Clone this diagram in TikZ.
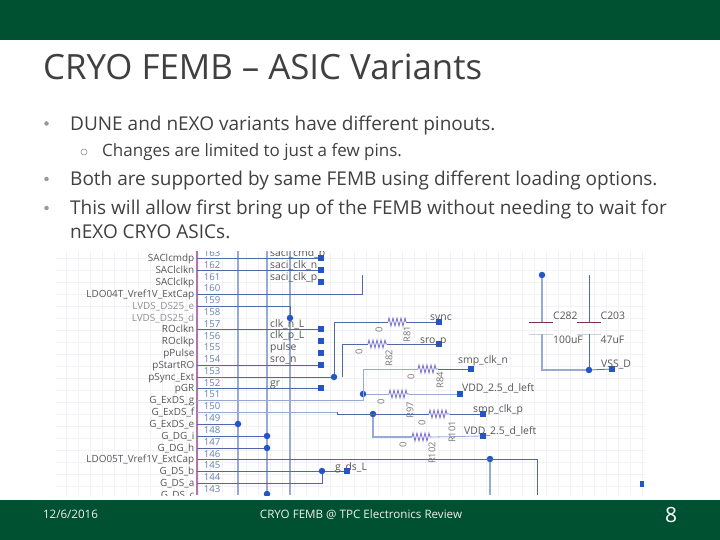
\documentclass[tikz,border=0pt]{standalone}
\usepackage{fontspec}
\setmainfont{Open Sans}
\usetikzlibrary{positioning}
\definecolor{barG}{RGB}{0,80,50}
\definecolor{wireB}{RGB}{78,104,168}
\definecolor{busB}{RGB}{150,170,212}
\definecolor{dotB}{RGB}{35,85,200}
\definecolor{pinM}{RGB}{175,120,170}
\definecolor{gridG}{RGB}{240,242,245}
\definecolor{resV}{RGB}{120,110,205}
\definecolor{txtG}{RGB}{64,64,64}
\definecolor{lblG}{RGB}{85,85,85}
\definecolor{capM}{RGB}{125,50,90}
\tikzset{
  bar/.style={fill=barG,draw=none},
  wire/.style={draw=wireB,line width=.8pt},
  wirelt/.style={draw=busB,line width=.8pt},
  bus/.style={draw=busB,line width=1.3pt},
  junc/.style={circle,fill=dotB,inner sep=0pt,minimum size=6.5pt},
  term/.style={rectangle,fill=dotB,inner sep=0pt,minimum size=5.5pt},
  pinlbl/.style={anchor=base east,yshift=-3.5pt,font=\fontsize{9.9}{11}\selectfont,text=lblG,inner sep=0pt},
  pinnum/.style={font=\fontsize{9.6}{10}\selectfont,text=wireB!85,inner sep=0pt},
  netlbl/.style={anchor=base west,yshift=-3.5pt,font=\fontsize{10.4}{11}\selectfont,text=lblG,inner sep=0pt},
  vallbl/.style={font=\fontsize{9.4}{10}\selectfont,text=lblG!80,inner sep=0pt},
  bullet/.style={anchor=base west,font=\fontsize{19}{22}\selectfont,text=txtG,inner sep=0pt},
  subbullet/.style={anchor=base west,font=\fontsize{17}{20}\selectfont,text=txtG,inner sep=0pt},
  bulletdot/.style={circle,fill=gray!80,inner sep=0pt,minimum size=4.5pt},
  subdot/.style={circle,draw=gray,line width=.5pt,inner sep=0pt,minimum size=6pt},
  foot/.style={font=\fontsize{11.6}{13}\selectfont,text=white!88!gray,inner sep=0pt}
}
\newcommand{\zigres}[3]{% x1 x2 y
  \draw[resV,line width=.8pt] (#1,#3) -- ++(1,-4) -- ++(2,8) -- ++(2,-8) -- ++(2,8) -- ++(2,-8) -- ++(2,8) -- ++(2,-8) -- ++(2,8) -- ++(2,-8) -- ++(1,4) -- (#2,#3);
}
\begin{document}
\begin{tikzpicture}[x=1pt,y=-1pt]
  \useasboundingbox (0,0) rectangle (720,540);
  \fill[white] (0,0) rectangle (720,540);
  % bars
  \fill[bar] (0,0) rectangle (720,40);
  \fill[bar] (0,500) rectangle (720,540);
  \node[anchor=base west,inner sep=0pt,font=\fontsize{34.8}{38}\selectfont,text=txtG] (title) at (43,80) {CRYO FEMB – ASIC Variants};
  \node[bulletdot] (b1m) at (46.5,123.5) {};
  \node[bullet] (b1) at (70,131) {DUNE and nEXO variants have different pinouts.};
  \node[subdot] (b2m) at (84,152) {};
  \node[subbullet] (b2) at (102,157) {Changes are limited to just a few pins.};
  \node[bulletdot] (b3m) at (46.5,179) {};
  \node[bullet] (b3) at (70,186) {Both are supported by same FEMB using different loading options.};
  \node[bulletdot] (b4m) at (46.5,208) {};
  \node[bullet] (b4) at (70,214.5) {This will allow first bring up of the FEMB without needing to wait for};
  \node[bullet] (b5) at (70,238.5) {nEXO CRYO ASICs.};
  % schematic
  \begin{scope}
  \clip (55,251) rectangle (646,495);
  % grid
  \foreach \gx in {66,78,...,642} \draw[gridG,line width=.4pt] (\gx,252) -- (\gx,495);
  \foreach \gy in {258,270,...,494} \draw[gridG,line width=.4pt] (56,\gy) -- (645,\gy);
  % buses
  \draw[pinM,line width=1.6pt] (197,251) -- (197,495);
  \foreach \bx in {238,267,290} \draw[bus] (\bx,251) -- (\bx,495);
  % pin numbers
  \foreach \pnum [count=\i from 0] in {163,162,...,143}
    \node[pinnum] (n\pnum) at (212,253+11.8*\i) {\pnum};
  % pin names
  \foreach \pname/\py in {SAClcmdp/258,SAClclkn/270,SAClclkp/282,LDO04T\_Vref1V\_ExtCap/294,ROclkn/329,ROclkp/341,pPulse/353,pStartRO/365,pSync\_Ext/377,pGR/388,G\_ExDS\_g/400,G\_ExDS\_f/412,G\_ExDS\_e/424,G\_DG\_i/436,G\_DG\_h/448,LDO05T\_Vref1V\_ExtCap/459,G\_DS\_b/471,G\_DS\_a/483,G\_DS\_c/495}
    \node[pinlbl] at (194.5,\py) {\pname};
  \foreach \pname/\py in {LVDS\_DS25\_e/306,LVDS\_DS25\_d/318}
    \node[pinlbl,text=lblG!65] at (194.5,\py) {\pname};
  % terminals
  \foreach \tname/\tx/\ty in {t1/321/258,t2/321/270,t3/321/282,t4/321/329,t5/321/341,t6/321/353,t7/321/365,t8/321/388,tsync/439/322,tsro/439/344,tsmpn/471/369,tvdd/460/394,tsmpp/483/414,tvddb/483/436,tds/347/471,tvss/612/369}
    \node[term] (\tname) at (\tx,\ty) {};
  \node[rectangle,fill=dotB,inner sep=0pt,minimum width=3.5pt,minimum height=5.5pt] (tend) at (642,484) {};
  % junctions
  \foreach \jname/\jx/\jy in {j1/290/318,j2/334/377,j3/238/424,j4/267/436,j5/267/448,j6/322/471,j7/267/494,j8/363/394,j9/373/414,j10/490/459,j11/542/275,j12/589/370}
    \node[junc] (\jname) at (\jx,\jy) {};
  % wires from pins
  \foreach \wy/\wend in {258/t1,270/t2,329/t4,365/t7,388/t8}
    \draw[wire] (197,\wy) -- (\wend);
  \draw[wire] (197,306) -- (290,306) -- (j1);
  \draw[wire] (197,294) -- (362,294) -- (362,275);
  \draw[wire] (197,377) -- (j2);
  \draw[wire] (j2) -- (334,322) -- (388,322);
  \draw[wire] (342,377) -- (342,344) -- (368,344);
  \draw[wirelt] (197,400) -- (363,400) -- (363,369) -- (418,369);
  \draw[wirelt] (j8) -- (389,394);
  \draw[wirelt] (197,412) -- (337,412);
  \draw[wire] (337,412) -- (337,414) -- (429,414);
  \draw[wire] (197,424) -- (j3);
  \draw[wire] (197,436) -- (j4);
  \draw[wire] (197,448) -- (j5);
  \draw[wire] (197,459) -- (537,459) -- (537,495);
  \draw[bus] (j10) -- (490,495);
  \draw[wire] (197,471) -- (j6) -- (tds);
  \draw[wire] (197,483) -- (322,483) -- (j6);
  \draw[bus] (j9) -- (373,437) -- (412,437);
  % resistors
  \zigres{388}{406}{322}
  \draw[wire] (406,322) -- (tsync);
  \zigres{368}{387}{344}
  \draw[wire] (387,344) -- (tsro);
  \zigres{418}{438}{369}
  \draw[wire] (438,369) -- (tsmpn);
  \zigres{389}{409}{394}
  \draw[wirelt] (409,394) -- (tvdd);
  \zigres{429}{450}{414}
  \draw[wire] (450,414) -- (tsmpp);
  \zigres{412}{432}{437}
  \draw[wirelt] (432,437) -- (tvddb);
  % caps
  \draw[bus] (j11) -- (542,322);
  \draw[capM,line width=.7pt] (529,322) -- (553,322);
  \draw[capM,line width=.7pt] (577,322) -- (601,322);
  \draw[gridG!70!gray,line width=.7pt] (529,334) -- (553,334);
  \draw[gridG!70!gray,line width=.7pt] (577,334) -- (601,334);
  \draw[wire] (589,275) -- (589,322);
  \draw[wire] (589,334) -- (j12);
  \draw[bus] (542,334) -- (542,370) -- (j12);
  \draw[wire] (j12) -- (tvss);
  % net names
  \foreach \nname/\nx/\ny in {saci\_cmd\_p/270/253,saci\_clk\_n/270/265,saci\_clk\_p/270/277,clk\_n\_L/270/324,clk\_p\_L/270/335,pulse/270/347,sro\_n/270/359,gr/270/383,sync/430/317,sro\_p/420/340,smp\_clk\_n/458/360,VDD\_2.5\_d\_left/462/388,smp\_clk\_p/473/409,VDD\_2.5\_d\_left/464/431,g\_ds\_L/335/467,C282/553/316,C203/600.5/316,100uF/553/340,47uF/600.5/340,VSS\_D/601/364}
    \node[netlbl] at (\nx,\ny) {\nname};
  % resistor values
  \foreach \vtxt/\vx/\vy in {R81/407/334,R82/389/358,R84/440/380,R97/410/410,R101/452/432,R102/432/453}
    \node[vallbl,rotate=90] at (\vx,\vy) {\vtxt};
  \foreach \vx/\vy in {379/330,359/352,411/377,381/402,422/423,403/445}
    \node[vallbl,rotate=90] at (\vx,\vy) {0};
  \end{scope}
  % footer
  \node[foot] (fdate) at (70.5,514.5) {12/6/2016};
  \node[foot] (ftitle) at (361,514.5) {CRYO FEMB @ TPC Electronics Review};
  \node[inner sep=0pt,font=\fontsize{21}{22}\selectfont,text=white] (fnum) at (671,515) {8};
\end{tikzpicture}
\end{document}
